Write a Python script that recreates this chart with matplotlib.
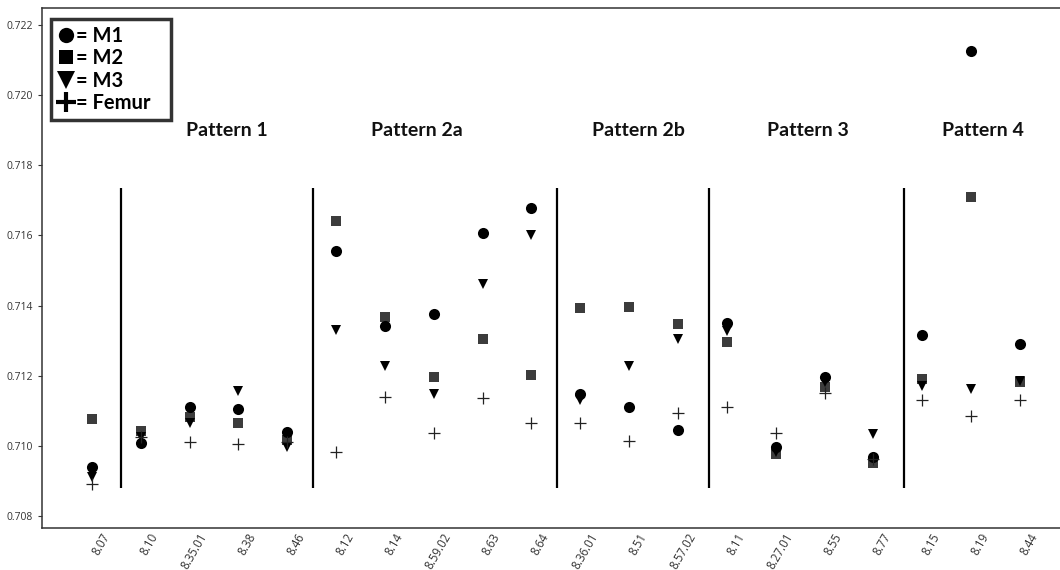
import matplotlib
matplotlib.use('Agg')
import matplotlib.pyplot as plt
import matplotlib.transforms as mtransforms
from matplotlib.lines import Line2D
import numpy as np

# sample ids along the x axis
samples = ['8.07', '8.10', '8.35.01', '8.38', '8.46',
           '8.12', '8.14', '8.59.02', '8.63', '8.64',
           '8.36.01', '8.51', '8.57.02',
           '8.11', '8.27.01', '8.55', '8.77',
           '8.15', '8.19', '8.44']

# 87Sr/86Sr values
m1 = [0.70940, 0.71007, 0.71111, 0.71104, 0.71040,
      0.71554, 0.71342, 0.71375, 0.71607, 0.71678,
      0.71147, 0.71110, 0.71045,
      0.71350, 0.70997, 0.71197, 0.70967,
      0.71317, 0.72125, 0.71290]
m2 = [0.71076, 0.71043, 0.71083, 0.71064, 0.71018,
      0.71640, 0.71366, 0.71197, 0.71305, 0.71202,
      0.71394, 0.71397, 0.71348,
      0.71295, 0.70978, 0.71167, 0.70951,
      0.71192, 0.71710, 0.71183]
m3 = [0.70910, 0.71025, 0.71064, 0.71156, 0.70997,
      0.71330, 0.71228, 0.71148, 0.71461, 0.71600,
      0.71132, 0.71228, 0.71304,
      0.71326, 0.70983, 0.71183, 0.71033,
      0.71170, 0.71162, 0.71186]
femur = [0.70890, 0.71026, 0.71011, 0.71005, 0.71011,
         0.70983, 0.71140, 0.71038, 0.71137, 0.71064,
         0.71064, 0.71014, 0.71095,
         0.71110, 0.71037, 0.71151, 0.70964,
         0.71130, 0.71085, 0.71130]

# group dividers and pattern names
dividers = [0.59, 4.52, 9.52, 12.63, 16.63]
patterns = ['Pattern 1', 'Pattern 2a', 'Pattern 2b', 'Pattern 3', 'Pattern 4']
pattern_x = [2.76, 6.65, 11.18, 14.66, 18.24]

x = np.arange(len(samples))

fig = plt.figure(figsize=(10.6, 5.7), dpi=100)
ax = fig.add_axes([0.0396, 0.0737, 0.9604, 0.9123])

ax.plot(x, m2, 's', color='#3c3c3c', ms=7.2, mew=0, zorder=3)
ax.plot(x, m3, 'v', color='black', ms=7.5, mew=0, zorder=4)
ax.plot(x, m1, 'o', color='black', ms=8, mew=0, zorder=5)
ax.plot(x, femur, '+', color='#222222', ms=9, mew=0.9, zorder=6)

ax.vlines(dividers, 0.7088, 0.71735, color='black', lw=1.6)

for name, px in zip(patterns, pattern_x):
    ax.text(px, 0.7190, name, ha='center', va='center',
            fontsize=14, fontweight='bold', family='Lato', color='#111111')

ax.set_xlim(-1.02, 19.82)
ax.set_ylim(0.70766, 0.72248)
ax.set_yticks(np.arange(0.708, 0.7221, 0.002))
ax.set_yticklabels(['%.3f' % v for v in np.arange(0.708, 0.7221, 0.002)],
                   family='Open Sans')
ax.set_xticks(x)
ax.tick_params(axis='x', length=0, colors='#333333', pad=2)
ax.tick_params(axis='y', length=3, labelsize=7.5, colors='#333333', width=0.8)
ax.set_xticklabels(samples, rotation=60, ha='right', rotation_mode='anchor',
                   family='Open Sans', fontsize=8.3)
# shift the rotated labels a bit to the right, as in the original
offset = mtransforms.ScaledTranslation(0.09, 0, fig.dpi_scale_trans)
for lab in ax.get_xticklabels():
    lab.set_transform(lab.get_transform() + offset)

for s in ['left', 'bottom', 'top']:
    ax.spines[s].set_color('#333333')
    ax.spines[s].set_linewidth(1.1)
ax.spines['right'].set_visible(False)

handles = [Line2D([], [], ls='', marker='o', color='black', ms=11, mew=0),
           Line2D([], [], ls='', marker='s', color='black', ms=10, mew=0),
           Line2D([], [], ls='', marker='v', color='black', ms=13, mew=0),
           Line2D([], [], ls='', marker='+', color='black', ms=14, mew=3)]
labels = ['= M1', '= M2', '= M3', '= Femur']
leg = ax.legend(handles, labels, loc='upper left', mode='expand',
                bbox_to_anchor=(0.0088, 0.779, 0.118, 0.2),
                frameon=True, fancybox=False, handlelength=0.8, handletextpad=0.1,
                labelspacing=0.12, borderpad=0.35, borderaxespad=0,
                prop={'family': 'Lato', 'weight': 'bold', 'size': 14.5})
leg.get_frame().set_edgecolor('black')
leg.get_frame().set_linewidth(2.5)

fig.savefig('out.png', dpi=100)
